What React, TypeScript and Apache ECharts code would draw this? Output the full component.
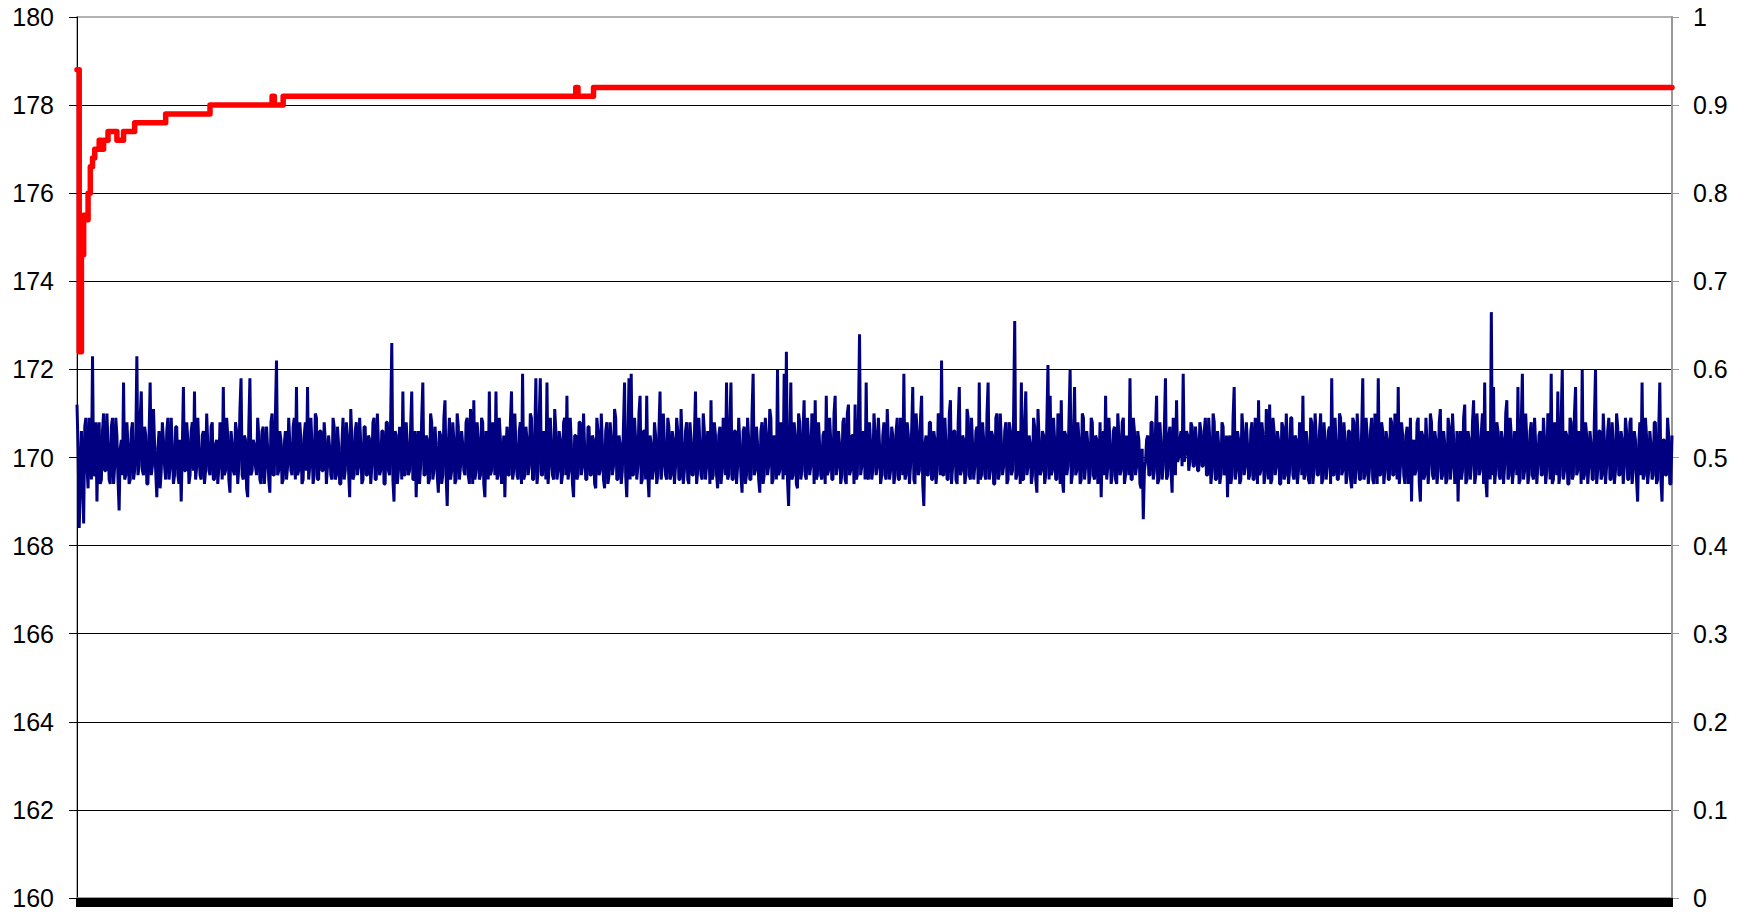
import React, { useEffect, useRef } from "react";
import * as echarts from "echarts";

// Left axis ticks 160..180 step 2, right axis 0..1 step 0.1
const leftMin = 160;
const leftMax = 180;
const leftStep = 2;
const rightMin = 0;
const rightMax = 1;
const rightStep = 0.1;

// Blue (navy) noisy series in five strips (even samples)
const blueA = [
  171.2, 168.4, 170.6, 168.5, 170.9, 169.3, 170.4, 172.3, 169.6, 169.0,
  170.8, 169.5, 171.0, 169.7, 170.3, 169.4, 170.9, 169.8, 170.5, 168.8,
  170.4, 171.7, 169.6, 170.3, 169.5, 170.8, 169.7, 172.3, 169.8, 171.5,
  169.6, 170.5, 169.4, 171.7, 169.8, 170.3, 169.1, 170.6, 169.7, 170.4,
  169.5, 170.9, 169.8, 170.2, 169.6, 170.7, 169.4, 169.0, 171.6, 169.7,
  170.4, 169.6, 170.8, 171.5, 169.8, 170.2, 169.5, 170.6, 169.7, 170.3,
  169.6, 170.8, 169.5, 170.4, 169.8, 170.2, 171.6, 169.7, 170.5, 169.2,
  170.3, 169.6, 170.6, 169.8, 171.8, 169.5, 170.4, 169.1, 171.8, 169.7,
  170.3, 169.6, 170.5, 169.4, 170.7, 169.8, 170.2, 169.2, 171.0, 169.6,
  172.2, 169.7, 170.4, 169.5, 170.6, 169.8, 170.3, 169.6, 170.9, 171.6,
  169.7, 170.4, 169.5, 170.8, 171.6, 169.8, 170.3, 169.6, 170.9, 169.5,
  170.6, 169.7, 170.4, 169.8, 170.2, 169.5, 170.7, 169.6, 170.3, 169.4,
  170.9, 169.7, 170.5, 169.1, 170.4, 169.6, 170.8, 169.8, 170.3, 169.5,
  170.7, 169.6, 170.4, 169.8, 170.9, 169.5, 170.3, 169.7, 170.6, 169.4,
  170.8, 169.6, 172.6, 169.0, 170.5, 169.7, 170.4, 171.5, 169.6, 170.3,
];
const blueB = [
  169.7, 171.5, 169.5, 169.1, 170.6, 169.8, 171.7, 169.6, 170.4, 169.5,
  170.8, 169.7, 170.3, 169.2, 170.5, 169.6, 171.3, 168.9, 170.9, 169.7,
  170.4, 169.5, 170.7, 169.8, 170.3, 169.6, 170.9, 169.4, 170.5, 171.3,
  169.7, 170.4, 169.6, 170.8, 169.1, 170.3, 171.5, 169.7, 170.6, 171.5,
  169.6, 170.4, 169.8, 169.1, 170.7, 169.6, 171.5, 169.7, 170.3, 169.5,
  170.8, 171.9, 169.6, 170.4, 169.8, 170.9, 169.5, 171.8, 169.7, 171.8,
  169.6, 170.5, 171.7, 169.8, 170.3, 169.5, 170.6, 169.7, 170.4, 169.6,
  170.9, 171.4, 169.7, 170.3, 169.1, 170.5, 169.6, 170.8, 169.8, 170.2,
  169.5, 170.7, 169.6, 170.4, 169.3, 170.6, 169.7, 170.3, 169.3, 170.8,
  169.6, 170.4, 169.8, 170.9, 169.5, 170.3, 169.7, 171.7, 169.1, 171.8,
  171.9, 169.6, 170.4, 169.8, 171.4, 169.5, 170.6, 171.4, 169.1, 170.3,
  169.7, 170.5, 169.6, 171.5, 169.8, 170.3, 169.5, 170.7, 169.6, 170.4,
  169.8, 170.6, 169.5, 170.3, 169.7, 170.8, 169.4, 170.4, 169.6, 171.5,
  169.7, 170.3, 169.5, 170.6, 169.8, 170.4, 171.3, 169.6, 170.5, 169.3,
  170.7, 169.7, 170.4, 171.7, 169.6, 171.7, 169.5, 170.6, 169.8, 170.3,
];
const blueC = [
  169.2, 170.7, 169.6, 170.4, 169.5, 171.9, 169.7, 170.3, 169.2, 170.8,
  169.6, 170.5, 169.8, 170.9, 169.5, 170.4, 172.0, 169.7, 170.6, 171.9,
  172.4, 168.9, 171.7, 169.6, 170.5, 169.3, 170.8, 169.7, 171.3, 169.5,
  170.4, 169.8, 170.7, 171.3, 169.6, 170.3, 169.5, 170.6, 171.4, 169.7,
  170.4, 169.5, 171.4, 169.8, 170.3, 169.6, 170.9, 169.4, 171.2, 169.7,
  170.5, 171.2, 169.6, 172.8, 169.8, 170.4, 171.7, 169.5, 170.3, 169.7,
  170.6, 169.8, 170.3, 169.6, 170.8, 169.5, 170.4, 169.7, 170.5, 169.6,
  170.9, 169.5, 170.4, 171.9, 169.6, 170.5, 169.8, 171.6, 169.4, 170.6,
  169.7, 171.4, 168.9, 170.5, 169.6, 170.8, 169.5, 170.4, 169.7, 170.9,
  172.2, 169.6, 170.3, 169.5, 171.3, 169.8, 170.6, 169.4, 171.6, 169.7,
  170.4, 169.6, 170.9, 169.5, 170.3, 169.8, 170.7, 171.7, 169.6, 170.4,
  169.5, 171.7, 169.7, 170.5, 169.4, 171.0, 169.6, 170.3, 169.8, 170.8,
  169.5, 170.6, 169.7, 173.1, 169.6, 170.4, 171.7, 169.5, 171.5, 169.8,
  170.3, 169.6, 170.7, 169.2, 170.4, 169.7, 170.5, 169.6, 172.1, 171.4,
];
const blueD = [
  169.7, 170.4, 169.5, 170.8, 171.3, 169.2, 170.5, 169.8, 172.0, 169.6,
  171.6, 169.7, 170.4, 169.5, 170.9, 169.8, 170.3, 169.6, 170.8, 169.5,
  170.4, 169.7, 169.1, 170.6, 171.4, 169.8, 170.3, 169.6, 170.7, 169.4,
  170.5, 169.7, 170.9, 169.6, 170.3, 171.8, 169.5, 170.6, 169.8, 170.4,
  169.3, 168.6, 169.9, 170.5, 169.6, 170.8, 169.7, 171.4, 169.5, 170.3,
  169.8, 171.8, 169.6, 170.7, 169.2, 170.4, 171.3, 170.0, 170.6, 171.9,
  170.1, 170.5, 169.9, 170.7, 169.8, 170.4, 169.7, 170.6, 169.8, 170.9,
  169.6, 170.4, 169.7, 170.8, 169.5, 170.3, 169.6, 170.7, 169.7, 169.1,
  170.5, 169.6, 171.6, 169.7, 170.4, 169.5, 170.6, 169.8, 170.3, 169.6,
  170.8, 169.5, 170.4, 171.3, 169.7, 170.5, 169.6, 170.3, 171.2, 169.5,
  170.6, 169.8, 170.4, 169.4, 170.7, 169.6, 170.3, 169.7, 170.9, 169.5,
  170.4, 169.7, 170.6, 171.4, 169.6, 170.3, 169.4, 170.8, 169.7, 170.5,
  169.6, 171.0, 169.5, 170.4, 169.8, 170.7, 171.8, 169.6, 170.3, 169.5,
  170.9, 169.7, 170.4, 169.6, 170.6, 169.3, 170.8, 169.7, 170.4, 169.5,
];
const blueE = [
  171.8, 169.6, 170.5, 169.7, 170.9, 169.4, 170.3, 171.8, 169.6, 170.6,
  169.7, 170.4, 169.5, 170.8, 169.6, 170.3, 171.6, 169.8, 170.5, 169.4,
  170.7, 169.6, 169.0, 170.4, 169.7, 170.9, 169.0, 170.5, 169.6, 170.3,
  169.8, 170.8, 169.5, 170.4, 169.7, 171.1, 169.6, 170.3, 169.5, 170.7,
  169.8, 170.4, 169.6, 169.0, 170.6, 169.7, 171.2, 169.5, 170.4, 169.8,
  171.3, 169.6, 170.5, 169.7, 171.0, 171.7, 169.1, 170.4, 173.3, 171.6,
  169.7, 170.6, 169.5, 170.4, 169.8, 171.3, 169.6, 170.5, 169.7, 170.3,
  171.6, 169.5, 171.9, 169.7, 170.4, 169.6, 170.8, 169.5, 170.3, 169.8,
  170.6, 169.6, 170.4, 169.7, 170.9, 171.9, 169.5, 170.4, 171.5, 169.6,
  172.0, 169.7, 170.5, 169.4, 170.8, 169.6, 171.6, 169.7, 170.4, 172.0,
  169.6, 170.5, 169.8, 170.3, 169.5, 172.0, 169.7, 170.6, 169.6, 170.4,
  169.8, 170.9, 169.5, 170.3, 169.7, 170.7, 169.6, 170.4, 169.8, 170.6,
  169.5, 170.9, 169.7, 170.4, 169.0, 170.8, 171.7, 169.6, 170.5, 169.7,
  170.3, 169.6, 170.8, 169.5, 171.7, 169.0, 170.4, 169.6, 170.5, 169.4,
];

// Blue in-between (odd) samples, the bushy body of the band
const midA = [
  170.2, 169.4, 169.5, 170.7, 169.8, 170.9, 169.5, 169.6, 170.8, 170.5,
  169.4, 170.6, 169.7, 171.0, 169.5, 170.7, 169.4, 170.9, 169.5, 170.2,
  169.6, 169.5, 170.8, 169.4, 170.6, 169.5, 170.3, 169.6, 170.9, 169.7,
  170.7, 169.4, 170.5, 169.6, 171.1, 169.7, 170.2, 169.3, 170.8, 169.8,
  170.6, 169.5, 170.9, 169.4, 170.7, 169.6, 170.4, 170.2, 169.7, 170.8,
  169.4, 170.6, 169.7, 169.5, 170.9, 169.6, 170.5, 169.4, 171.0, 169.7,
  170.7, 169.5, 170.3, 169.4, 170.8, 169.5, 169.6, 170.9, 169.5, 170.6,
  169.7, 170.8, 169.4, 171.1, 169.6, 170.5, 169.3, 170.7, 169.6, 170.4,
  169.8, 170.9, 169.5, 170.6, 169.4, 170.7, 169.5, 170.8, 169.6, 171.0,
  169.6, 170.6, 169.4, 170.3, 169.5, 170.9, 169.7, 170.7, 169.5, 169.6,
  170.8, 169.4, 170.5, 169.7, 169.5, 170.9, 169.4, 171.0, 169.5, 170.6,
  169.7, 170.8, 169.4, 170.5, 169.6, 170.9, 169.5, 170.7, 169.4, 170.3,
  169.5, 170.8, 169.7, 171.1, 169.5, 170.6, 169.6, 170.9, 169.4, 170.7,
  169.6, 170.5, 169.4, 170.8, 169.5, 171.0, 169.6, 170.6, 169.4, 170.8,
  169.7, 170.9, 169.5, 170.6, 169.4, 170.7, 169.5, 169.6, 170.8, 169.6,
];
const midB = [
  170.7, 169.5, 170.6, 170.2, 169.4, 170.9, 169.6, 170.5, 169.4, 171.0,
  169.5, 170.7, 169.6, 170.6, 169.4, 170.9, 169.6, 170.3, 169.5, 170.8,
  169.4, 171.0, 169.5, 170.6, 169.7, 170.8, 169.6, 171.1, 169.4, 169.5,
  170.8, 169.5, 170.9, 169.4, 170.6, 169.5, 169.6, 170.8, 169.6, 169.5,
  170.9, 169.4, 170.5, 170.2, 169.6, 170.8, 169.5, 171.0, 169.6, 170.6,
  169.4, 169.5, 170.7, 169.6, 171.0, 169.5, 170.5, 169.4, 170.9, 169.6,
  170.6, 169.5, 169.4, 170.9, 169.6, 171.1, 169.5, 170.6, 169.4, 170.8,
  169.6, 169.5, 170.9, 169.4, 170.5, 169.5, 170.8, 169.6, 171.0, 169.5,
  170.7, 169.6, 170.5, 169.4, 170.9, 169.6, 171.0, 169.5, 170.6, 169.4,
  170.8, 169.6, 171.1, 169.5, 170.5, 169.4, 170.7, 169.6, 170.3, 169.5,
  169.6, 170.9, 169.5, 171.0, 169.4, 170.6, 169.5, 169.6, 170.5, 169.5,
  170.8, 169.4, 170.6, 169.5, 171.0, 169.6, 170.9, 169.5, 170.6, 169.4,
  170.9, 169.5, 171.1, 169.4, 170.6, 169.5, 170.8, 169.6, 170.5, 169.4,
  170.9, 169.6, 171.0, 169.5, 170.6, 169.4, 169.5, 170.8, 169.6, 170.5,
  169.4, 170.9, 169.6, 169.5, 170.8, 169.5, 170.6, 169.4, 170.9, 169.6,
];
const midC = [
  170.6, 169.4, 170.9, 169.5, 171.0, 169.6, 170.7, 169.5, 170.6, 169.4,
  170.9, 169.6, 171.1, 169.4, 170.5, 169.5, 169.6, 170.8, 169.5, 169.6,
  169.5, 170.3, 169.5, 170.8, 169.4, 171.0, 169.5, 170.6, 169.6, 170.9,
  169.6, 171.0, 169.4, 169.5, 170.8, 169.6, 170.5, 169.4, 169.6, 170.9,
  169.5, 171.0, 169.6, 170.6, 169.4, 170.8, 169.5, 171.0, 169.6, 170.5,
  169.4, 169.5, 170.9, 169.6, 170.6, 169.5, 169.6, 170.8, 169.5, 171.0,
  169.6, 170.9, 169.4, 170.5, 169.6, 171.1, 169.5, 170.7, 169.4, 170.6,
  169.5, 170.9, 169.6, 169.5, 170.8, 169.4, 170.6, 169.5, 171.0, 169.6,
  170.9, 169.4, 170.3, 169.6, 170.8, 169.5, 170.6, 169.4, 171.0, 169.6,
  169.6, 170.9, 169.5, 171.0, 169.4, 170.6, 169.5, 170.8, 169.6, 170.5,
  169.4, 171.1, 169.6, 170.9, 169.5, 170.6, 169.4, 169.5, 170.8, 169.6,
  171.0, 169.5, 170.6, 169.4, 170.9, 169.5, 171.0, 169.6, 170.6, 169.4,
  170.8, 169.6, 171.0, 169.5, 170.6, 169.4, 169.5, 170.8, 169.6, 170.5,
  169.4, 170.9, 169.5, 171.1, 169.6, 170.6, 169.4, 170.8, 169.5, 169.6,
];
const midD = [
  170.9, 169.5, 171.0, 169.4, 169.5, 170.6, 169.6, 170.9, 169.4, 170.5,
  169.6, 170.8, 169.4, 171.0, 169.5, 170.6, 169.4, 170.9, 169.6, 170.5,
  169.4, 170.8, 170.3, 169.6, 169.5, 170.9, 169.4, 170.6, 169.5, 171.0,
  169.6, 170.8, 169.4, 170.5, 169.6, 169.5, 170.9, 169.6, 170.6, 169.4,
  170.2, 169.7, 170.4, 169.6, 170.8, 169.5, 170.6, 169.4, 170.8, 169.5,
  170.7, 169.5, 170.5, 169.7, 170.9, 169.6, 169.9, 170.4, 169.8, 169.9,
  170.6, 169.7, 170.8, 169.8, 170.7, 169.7, 170.8, 169.8, 170.6, 169.6,
  170.9, 169.4, 171.0, 169.5, 170.6, 169.4, 170.8, 169.6, 170.5, 170.3,
  169.4, 170.9, 169.5, 170.6, 169.4, 171.0, 169.6, 170.8, 169.5, 170.6,
  169.5, 170.9, 169.4, 169.6, 170.8, 169.4, 171.1, 169.5, 169.4, 170.9,
  169.6, 170.6, 169.4, 170.8, 169.5, 171.0, 169.4, 170.9, 169.6, 170.5,
  169.4, 170.8, 169.6, 169.5, 170.6, 169.5, 170.9, 169.4, 171.0, 169.6,
  170.6, 169.4, 170.8, 169.5, 170.6, 169.4, 169.6, 170.9, 169.5, 171.0,
  169.6, 170.8, 169.4, 170.6, 169.5, 170.9, 169.4, 171.0, 169.5, 170.6,
];
const midE = [
  169.5, 170.9, 169.4, 170.6, 169.5, 171.0, 169.4, 169.6, 170.8, 169.4,
  170.6, 169.5, 170.9, 169.6, 171.0, 169.5, 169.4, 170.8, 169.6, 170.5,
  169.4, 170.9, 170.3, 169.6, 170.8, 169.4, 170.6, 169.5, 170.9, 169.4,
  171.0, 169.6, 170.6, 169.4, 170.8, 169.5, 170.6, 169.4, 170.9, 169.5,
  171.0, 169.4, 170.6, 170.3, 169.5, 170.9, 169.4, 170.6, 169.5, 170.8,
  169.4, 171.0, 169.6, 170.6, 169.4, 169.5, 170.6, 169.5, 169.6, 169.4,
  170.8, 169.6, 170.6, 169.4, 171.0, 169.5, 170.9, 169.4, 170.6, 169.6,
  169.4, 170.8, 169.5, 171.0, 169.4, 170.6, 169.6, 170.9, 169.4, 170.5,
  169.6, 170.9, 169.4, 171.0, 169.5, 169.4, 170.8, 169.6, 169.4, 170.9,
  169.5, 170.6, 169.4, 170.9, 169.5, 171.0, 169.6, 170.6, 169.4, 169.5,
  170.8, 169.4, 170.6, 169.5, 170.9, 169.4, 170.6, 169.5, 171.0, 169.4,
  170.6, 169.5, 170.8, 169.4, 171.0, 169.6, 170.6, 169.4, 170.9, 169.5,
  170.8, 169.4, 170.6, 169.5, 170.3, 169.6, 169.5, 170.9, 169.4, 170.6,
  169.5, 170.8, 169.4, 170.6, 169.5, 170.4, 169.6, 170.9, 169.4, 170.5,
];

// Red (step) series: change points (sample index) and values
const redIdx = [0, 2, 4, 6, 8, 10, 12, 14, 16, 20, 22, 24, 28, 36, 42, 52, 80, 120, 176, 178, 186, 450, 452, 466, 1439];
const redVal = [
  178.8, 172.4, 174.6, 175.5, 175.4, 176.0, 176.6, 176.8, 177.0, 177.2,
  177.0, 177.2, 177.4, 177.2, 177.4, 177.6, 177.8, 178.0, 178.2, 178.0,
  178.2, 178.4, 178.2, 178.4, 178.4,
];

const FONT = "'Liberation Sans', Arial, Helvetica, sans-serif";

export default function App() {
  const ref = useRef<HTMLDivElement>(null);

  useEffect(() => {
    if (!ref.current) return;
    const chart = echarts.init(ref.current, null, { renderer: "svg" });
    const main = [...blueA, ...blueB, ...blueC, ...blueD, ...blueE];
    const mid = [...midA, ...midB, ...midC, ...midD, ...midE];
    const blue: number[] = [];
    main.forEach((v, i) => {
      blue.push(v);
      blue.push(mid[i]);
    });
    const categories = blue.map((_, i) => String(i));
    const redData = redIdx.map((x, k) => [x, redVal[k]]);

    chart.setOption({
      animation: false,
      backgroundColor: "#ffffff",
      grid: {
        left: 77,
        right: 78,
        top: 17,
        bottom: 16,
        show: true,
        borderColor: "#999999",
        borderWidth: 1.5,
        backgroundColor: "transparent",
      },
      xAxis: {
        type: "category",
        data: categories,
        boundaryGap: false,
        axisLine: { show: true, lineStyle: { color: "#999999", width: 1.5 } },
        axisTick: {
          show: true,
          interval: 1,
          inside: false,
          length: 9,
          lineStyle: { color: "#000000", width: 3 },
        },
        axisLabel: { show: false },
        splitLine: { show: false },
      },
      yAxis: [
        {
          type: "value",
          min: leftMin,
          max: leftMax,
          interval: leftStep,
          position: "left",
          axisLine: { show: true, lineStyle: { color: "#000000", width: 1 } },
          axisTick: { show: true, length: 8, lineStyle: { color: "#000000", width: 1 } },
          axisLabel: {
            color: "#000000",
            fontSize: 25,
            fontFamily: FONT,
            margin: 23,
          },
          splitLine: {
            show: true,
            showMaxLine: false,
            lineStyle: { color: "#000000", width: 1 },
          },
        },
        {
          type: "value",
          min: rightMin,
          max: rightMax,
          interval: rightStep,
          position: "right",
          axisLine: { show: true, lineStyle: { color: "#999999", width: 2 } },
          axisTick: { show: true, length: 7, lineStyle: { color: "#999999", width: 1 } },
          axisLabel: {
            color: "#000000",
            fontSize: 25,
            fontFamily: FONT,
            margin: 21,
            formatter: (v: number) => String(Math.round(v * 10) / 10),
          },
          splitLine: { show: false },
        },
      ],
      series: [
        {
          name: "blue",
          type: "line",
          data: blue,
          yAxisIndex: 0,
          symbol: "none",
          lineStyle: { color: "#000080", width: 3 },
          itemStyle: { color: "#000080" },
          z: 2,
        },
        {
          name: "red",
          type: "line",
          data: redData,
          yAxisIndex: 0,
          step: "end",
          symbol: "none",
          lineStyle: { color: "#ff0000", width: 5.5, cap: "round", join: "round" },
          itemStyle: { color: "#ff0000" },
          z: 3,
        },
      ],
    });

    return () => {
      chart.dispose();
    };
  }, []);

  return (
    <div
      ref={ref}
      style={{ position: "fixed", left: 0, top: 0, width: 1750, height: 914, background: "#fff" }}
    />
  );
}
